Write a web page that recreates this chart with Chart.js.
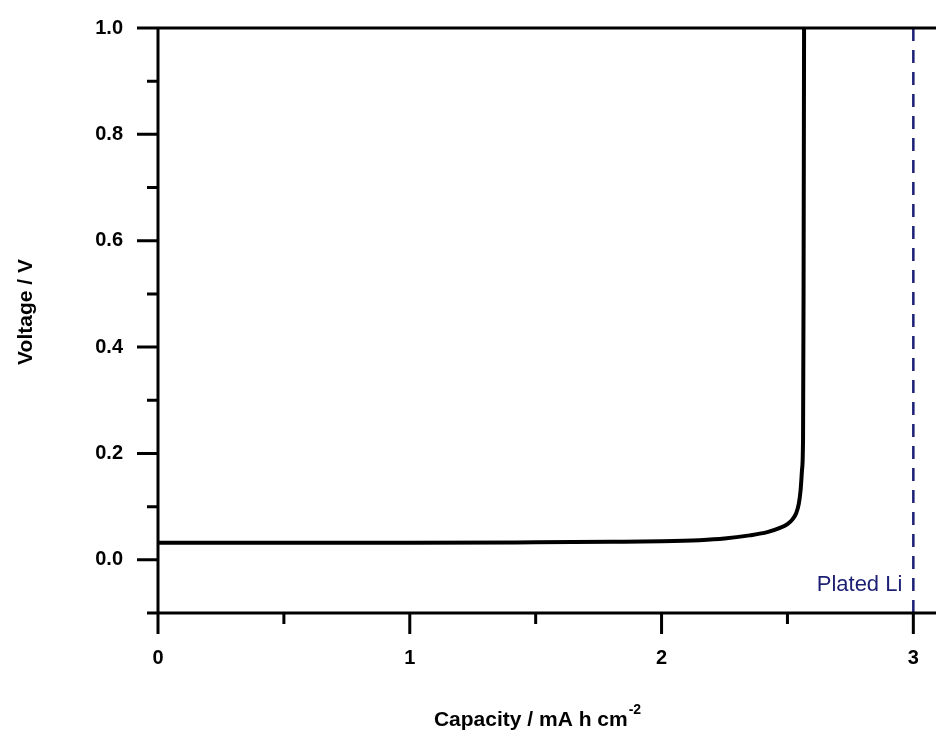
<!DOCTYPE html>
<html>
<head>
<meta charset="utf-8">
<script src="https://cdn.jsdelivr.net/npm/chart.js@4/dist/chart.umd.min.js"></script>
<style>
  html, body { margin: 0; padding: 0; background: #fff; }
  #wrap { width: 936px; height: 736px; position: relative; }
</style>
</head>
<body>
<div id="wrap"><canvas id="c"></canvas></div>
<script>
// ---- data ----
const capacity = [0, 0.5, 1.0, 1.5, 1.8, 2.0, 2.15, 2.25, 2.35, 2.42, 2.47, 2.50, 2.52, 2.535, 2.545, 2.552, 2.558, 2.562, 2.564, 2.566];
const voltage  = [0.032, 0.032, 0.032, 0.033, 0.034, 0.035, 0.037, 0.040, 0.046, 0.052, 0.060, 0.067, 0.076, 0.088, 0.105, 0.13, 0.17, 0.23, 0.5, 1.0];
const platedLiCapacity = 3;
const platedLiLabel = "Plated Li";
const xMajorTicks = [0, 1, 2, 3];
const xMinorTicks = [0.5, 1.5, 2.5];
const yMajorTicks = [0.0, 0.2, 0.4, 0.6, 0.8, 1.0];
const yMinorTicks = [-0.1, 0.1, 0.3, 0.5, 0.7, 0.9];
const xTitle = "Capacity / mA h cm";
const xTitleSup = "-2";
const yTitle = "Voltage / V";

const NAVY = '#1c1f73';
const FONT = '"Liberation Sans", Arial, sans-serif';

const axesPlugin = {
  id: 'axesPlugin',
  afterDatasetsDraw(chart) {
    const ctx = chart.ctx;
    const xs = chart.scales.x, ys = chart.scales.y;
    const a = chart.chartArea;
    ctx.save();
    ctx.strokeStyle = '#000';
    ctx.lineWidth = 3;
    ctx.lineCap = 'butt';
    // frame: left, bottom, top
    ctx.beginPath();
    ctx.moveTo(a.left, a.top); ctx.lineTo(a.left, a.bottom);
    ctx.moveTo(a.left, a.bottom); ctx.lineTo(a.right, a.bottom);
    ctx.moveTo(a.left, a.top); ctx.lineTo(a.right, a.top);
    ctx.stroke();
    // ticks
    ctx.beginPath();
    yMajorTicks.forEach(v => { const p = ys.getPixelForValue(v); ctx.moveTo(a.left - 21, p); ctx.lineTo(a.left, p); });
    yMinorTicks.forEach(v => { const p = ys.getPixelForValue(v); ctx.moveTo(a.left - 11, p); ctx.lineTo(a.left, p); });
    xMajorTicks.forEach(v => { const p = xs.getPixelForValue(v); ctx.moveTo(p, a.bottom); ctx.lineTo(p, a.bottom + 21); });
    xMinorTicks.forEach(v => { const p = xs.getPixelForValue(v); ctx.moveTo(p, a.bottom); ctx.lineTo(p, a.bottom + 11); });
    ctx.stroke();

    // annotation text
    ctx.fillStyle = NAVY;
    ctx.font = '22px ' + FONT;
    ctx.textAlign = 'right';
    ctx.textBaseline = 'middle';
    ctx.fillText(platedLiLabel, xs.getPixelForValue(platedLiCapacity) - 11, ys.getPixelForValue(-0.047));

    // axis titles
    ctx.fillStyle = '#000';
    ctx.font = 'bold 21px ' + FONT;
    ctx.textBaseline = 'alphabetic';
    const mainW = ctx.measureText(xTitle).width;
    ctx.font = 'bold 14px ' + FONT;
    const supW = ctx.measureText(xTitleSup).width;
    const cx = 537;
    const startX = cx - (mainW + supW) / 2;
    ctx.font = 'bold 21px ' + FONT;
    ctx.textAlign = 'left';
    ctx.fillText(xTitle, startX, 726);
    ctx.font = 'bold 14px ' + FONT;
    ctx.fillText(xTitleSup, startX + mainW + 1, 714);

    ctx.font = 'bold 21px ' + FONT;
    ctx.translate(26, 312);
    ctx.rotate(-Math.PI / 2);
    ctx.textAlign = 'center';
    ctx.textBaseline = 'middle';
    ctx.fillText(yTitle, 0, 0);
    ctx.restore();
  }
};

const curve = capacity.map((x, i) => ({ x: x, y: voltage[i] }));

function zeroPad(s) { s.paddingTop = 0; s.paddingBottom = 0; s.paddingLeft = 0; s.paddingRight = 0; }

new Chart(document.getElementById('c'), {
  type: 'line',
  data: {
    datasets: [
      {
        data: curve,
        borderColor: '#000',
        borderWidth: 4,
        pointRadius: 0,
        pointHoverRadius: 0,
        cubicInterpolationMode: 'monotone',
        fill: false
      },
      {
        data: [{ x: platedLiCapacity, y: 1.0 }, { x: platedLiCapacity, y: -0.1 }],
        borderColor: NAVY,
        borderWidth: 2.5,
        borderDash: [13, 9],
        pointRadius: 0,
        pointHoverRadius: 0,
        fill: false
      }
    ]
  },
  options: {
    responsive: true,
    maintainAspectRatio: false,
    animation: false,
    layout: { autoPadding: false, padding: { left: 0, top: 28, right: 0, bottom: 0 } },
    plugins: { legend: { display: false }, tooltip: { enabled: false } },
    scales: {
      x: {
        type: 'linear',
        min: 0,
        max: 3.09,
        afterFit: s => { s.height = 123; zeroPad(s); },
        afterBuildTicks: s => { s.ticks = xMajorTicks.map(v => ({ value: v })); },
        grid: { display: false, drawTicks: false },
        border: { display: false },
        ticks: {
          color: '#000',
          padding: 33,
          autoSkip: false,
          maxRotation: 0,
          font: { family: FONT, size: 20, weight: 'bold' },
          callback: v => String(v)
        }
      },
      y: {
        type: 'linear',
        min: -0.1,
        max: 1.0,
        afterFit: s => { s.width = 158; zeroPad(s); },
        afterBuildTicks: s => { s.ticks = yMajorTicks.map(v => ({ value: v })); },
        grid: { display: false, drawTicks: false },
        border: { display: false },
        ticks: {
          color: '#000',
          padding: 35,
          autoSkip: false,
          font: { family: FONT, size: 20, weight: 'bold' },
          callback: v => Number(v).toFixed(1)
        }
      }
    }
  },
  plugins: [axesPlugin]
});
</script>
</body>
</html>
